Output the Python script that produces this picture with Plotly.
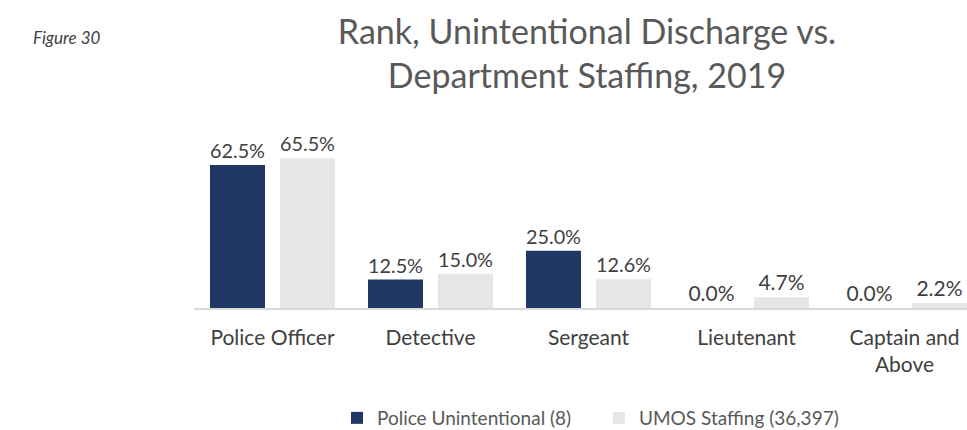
import plotly.graph_objects as go

categories = ["Police Officer", "Detective", "Sergeant", "Lieutenant", "Captain and<br>Above"]
police_unintentional = [62.5, 12.5, 25.0, 0.0, 0.0]
umos_staffing = [65.5, 15.0, 12.6, 4.7, 2.2]
series_names = ["Police Unintentional (8)", "UMOS Staffing (36,397)"]

W, H = 967, 430
FONT = "Lato"
TXT = "#404040"

x = list(range(len(categories)))

fig = go.Figure()
fig.add_trace(go.Bar(x=x, y=police_unintentional, name=series_names[0],
                     marker=dict(color="#1F3864", line=dict(width=0)),
                     texttemplate="%{y:.1f}%", textposition="outside",
                     textfont=dict(size=21, color=TXT, family=FONT), cliponaxis=False))
fig.add_trace(go.Bar(x=x, y=umos_staffing, name=series_names[1],
                     marker=dict(color="#E6E6E6", line=dict(width=0)),
                     texttemplate="%{y:.1f}%", textposition="outside",
                     textfont=dict(size=21, color=TXT, family=FONT), cliponaxis=False))

left = 193.5
cat_w = 158.0
x_hi = (W - left) / cat_w - 0.5
base_y = 308
px_per = 2.288
top_val = 80
dom_lo = (H - base_y) / H
dom_hi = (H - base_y + top_val * px_per) / H

fig.update_layout(
    width=W, height=H,
    margin=dict(l=0, r=0, t=0, b=0, autoexpand=False),
    paper_bgcolor="white", plot_bgcolor="white",
    barmode="group", bargap=0.114, bargroupgap=0.214,
    font=dict(family=FONT, color=TXT),
    title=dict(text="Rank, Unintentional Discharge vs.<br>Department Staffing, 2019",
               x=587 / W, xanchor="center", xref="paper",
               y=1 - 44 / H, yanchor="middle", yref="container",
               font=dict(size=34, color="#595959", family=FONT)),
    xaxis=dict(domain=[left / W, 1], range=[-0.5, x_hi], automargin=False,
               tickmode="array", tickvals=x, ticktext=categories,
               tickfont=dict(size=21, color=TXT, family=FONT),
               showgrid=False, zeroline=False, showline=True,
               linecolor="#D9D9D9", linewidth=1.5, ticks="",
               ticklabelstandoff=10),
    yaxis=dict(domain=[dom_lo, dom_hi], range=[0, top_val], visible=False,
               automargin=False),
    legend=dict(orientation="h", x=337 / W, xanchor="left",
                y=(H - 418) / H, yanchor="middle",
                font=dict(size=19, color="#595959", family=FONT),
                entrywidth=217, entrywidthmode="pixels", traceorder="normal"),
    showlegend=True,
)

fig.add_annotation(text="<i>Figure 30</i>", xref="paper", yref="paper",
                   x=31 / W, xanchor="left", y=1 - 37 / H, yanchor="middle",
                   showarrow=False, font=dict(size=17, color=TXT, family=FONT))

fig.write_html("out.html", config={"displayModeBar": False},
               post_script="document.body.style.margin='0';document.body.style.overflow='hidden';")
